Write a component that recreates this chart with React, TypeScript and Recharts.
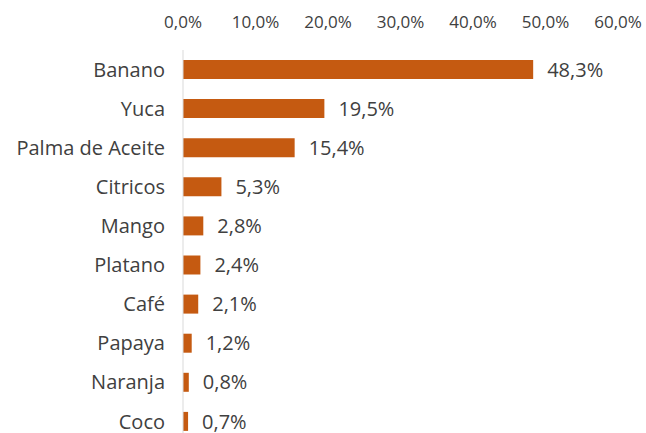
import { BarChart, Bar, XAxis, YAxis, LabelList } from "recharts"

const categories = ["Banano", "Yuca", "Palma de Aceite", "Citricos", "Mango", "Platano", "Café", "Papaya", "Naranja", "Coco"]
const shares = [48.3, 19.5, 15.4, 5.3, 2.8, 2.4, 2.1, 1.2, 0.8, 0.7]
const xTicks = [0, 10, 20, 30, 40, 50, 60]

const BAR_COLOR = "#c55a11"
const TEXT_COLOR = "#404040"
const FONT = "'Open Sans', 'Noto Sans', sans-serif"

const fmt = (v: number) => `${v.toFixed(1).replace(".", ",")}%`

export default function App() {
  const data = categories.map((name, i) => ({ name, value: shares[i] }))

  return (
    <div style={{ position: "absolute", left: 0, top: 0, width: 646, height: 433, overflow: "hidden", background: "#fff", fontFamily: FONT }}>
      <BarChart
        width={646}
        height={441}
        data={data}
        layout="vertical"
        margin={{ top: 20, right: 28, left: 0, bottom: 0 }}
        barCategoryGap={0}
      >
        <XAxis
          type="number"
          orientation="top"
          domain={[0, 60]}
          ticks={xTicks}
          tickFormatter={fmt}
          axisLine={false}
          tickLine={false}
          tickMargin={16}
          height={30}
          tick={{ fill: TEXT_COLOR, fontSize: 17, fontFamily: FONT }}
        />
        <YAxis
          type="category"
          dataKey="name"
          width={183}
          axisLine={{ stroke: "#d9d9d9" }}
          tickLine={false}
          tickMargin={12}
          interval={0}
          tick={{ fill: TEXT_COLOR, fontSize: 20, fontFamily: FONT }}
        />
        <Bar dataKey="value" fill={BAR_COLOR} barSize={19} isAnimationActive={false}>
          <LabelList
            dataKey="value"
            position="right"
            offset={14}
            formatter={(v: number) => fmt(v)}
            style={{ fill: TEXT_COLOR, fontSize: 20, fontFamily: FONT }}
          />
        </Bar>
      </BarChart>
    </div>
  )
}
